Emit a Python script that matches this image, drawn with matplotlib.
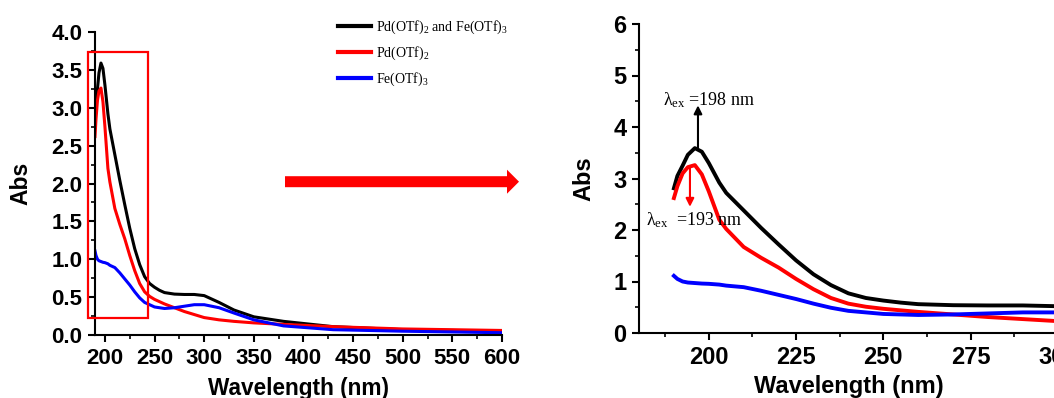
import matplotlib
matplotlib.use("Agg")
import matplotlib.pyplot as plt
from matplotlib.patches import Rectangle, FancyArrow
from matplotlib.ticker import MultipleLocator

# ---------------- data ----------------
wavelength = [190, 191, 192.5, 194, 196, 198, 200, 203, 205, 210, 215, 220, 225,
              230, 235, 240, 245, 250, 255, 260, 270, 280, 290, 300, 315, 330,
              350, 380, 430, 500, 600]
abs_pd_fe = [2.81, 3.05, 3.25, 3.46, 3.59, 3.52, 3.30, 2.92, 2.72, 2.38, 2.04, 1.72,
             1.41, 1.14, 0.93, 0.77, 0.68, 0.63, 0.59, 0.56, 0.54, 0.535, 0.535,
             0.52, 0.43, 0.33, 0.24, 0.18, 0.11, 0.07, 0.05]
abs_pd = [2.62, 2.85, 3.10, 3.22, 3.26, 3.08, 2.75, 2.20, 2.02, 1.67, 1.46, 1.27,
          1.05, 0.85, 0.68, 0.57, 0.51, 0.47, 0.44, 0.41, 0.36, 0.31, 0.27, 0.23,
          0.20, 0.18, 0.16, 0.14, 0.11, 0.08, 0.06]
abs_fe = [1.11, 1.05, 1.00, 0.98, 0.97, 0.96, 0.955, 0.94, 0.92, 0.89, 0.82, 0.74,
          0.66, 0.57, 0.49, 0.43, 0.40, 0.37, 0.36, 0.35, 0.36, 0.38, 0.40, 0.40,
          0.36, 0.29, 0.20, 0.12, 0.07, 0.05, 0.03]
labels = ['Pd(OTf)$_2$ and Fe(OTf)$_3$', 'Pd(OTf)$_2$', 'Fe(OTf)$_3$']
colors = ['black', '#ff0000', '#0000ff']
series = [abs_pd_fe, abs_pd, abs_fe]
left_xticks = [200, 250, 300, 350, 400, 450, 500, 550, 600]
left_yticks = [0.0, 0.5, 1.0, 1.5, 2.0, 2.5, 3.0, 3.5, 4.0]
right_xticks = [200, 225, 250, 275, 300]
right_yticks = [0, 1, 2, 3, 4, 5, 6]
peak_mix_nm = 198
peak_pd_nm = 193

plt.rcParams['mathtext.fontset'] = 'custom'
plt.rcParams['mathtext.rm'] = 'Liberation Serif'
plt.rcParams['mathtext.it'] = 'Liberation Serif:italic'

W, H = 1054, 398
fig = plt.figure(figsize=(W / 100, H / 100), dpi=100)


def style(ax, fs):
    for s in ['top', 'right']:
        ax.spines[s].set_visible(False)
    for s in ['left', 'bottom']:
        ax.spines[s].set_linewidth(1.5)
    ax.tick_params(which='major', direction='out', length=5, width=1.5, pad=4)
    ax.tick_params(which='minor', direction='out', length=3, width=1.2)
    for lab in ax.get_xticklabels() + ax.get_yticklabels():
        lab.set_fontfamily('Liberation Sans')
        lab.set_fontweight('bold')
        lab.set_fontsize(fs)


# ---------------- left panel ----------------
axL = fig.add_axes([95 / W, (H - 335) / H, (502 - 95) / W, 303 / H])
for y, c, l in zip(series, colors, labels):
    axL.plot(wavelength, y, color=c, lw=2.2, label=l)
axL.set_xlim(190, 600)
axL.set_ylim(0, 4.0)
axL.set_xticks(left_xticks)
axL.set_yticks(left_yticks)
axL.set_yticklabels([f'{v:.1f}' for v in left_yticks])
axL.xaxis.set_minor_locator(MultipleLocator(25))
axL.yaxis.set_minor_locator(MultipleLocator(0.25))
style(axL, 16)
axL.set_xlabel('Wavelength (nm)', family='Liberation Sans', weight='bold',
               size=16.3, labelpad=6)
axL.set_ylabel('Abs', family='Liberation Sans', weight='bold', size=16.5,
               labelpad=14)
axL.add_patch(Rectangle((183, 0.22), 60.5, 3.51, fill=False, edgecolor='#ff0000',
                        lw=1.6, clip_on=False, zorder=5))
leg = axL.legend(loc='upper left', bbox_to_anchor=(338 / W, (H - 19) / H),
                 bbox_transform=fig.transFigure, frameon=False,
                 prop=dict(family='Liberation Serif', size=10),
                 handlelength=2.4, handletextpad=0.35, labelspacing=0.6,
                 borderaxespad=0, borderpad=0)
for line in leg.get_lines():
    line.set_linewidth(3)

# ---------------- big arrow ----------------
fig.add_artist(FancyArrow(2.85, (H - 181.7) / 100, 5.19 - 2.85, 0, width=0.11,
                          head_width=0.24, head_length=0.12,
                          length_includes_head=True, color='#ff0000', lw=0,
                          transform=fig.dpi_scale_trans))

# ---------------- right panel ----------------
axR = fig.add_axes([639 / W, (H - 333) / H, 418.8 / W, 309 / H])
for y, c in zip(series, colors):
    axR.plot(wavelength, y, color=c, lw=2.8)
axR.set_xlim(180, 300)
axR.set_ylim(0, 6)
axR.set_xticks(right_xticks)
axR.set_yticks(right_yticks)
axR.xaxis.set_minor_locator(MultipleLocator(12.5))
axR.yaxis.set_minor_locator(MultipleLocator(0.5))
style(axR, 17)
axR.set_xlabel('Wavelength (nm)', family='Liberation Sans', weight='bold',
               size=17, labelpad=5)
axR.set_ylabel('Abs', family='Liberation Sans', weight='bold', size=17,
               labelpad=13)

axR.annotate('', xy=(196.9, 4.42), xytext=(196.9, 3.6),
             arrowprops=dict(arrowstyle='-|>', color='black', lw=1.5,
                             mutation_scale=12, shrinkA=0, shrinkB=0))
axR.annotate('', xy=(194.6, 2.45), xytext=(194.6, 3.2),
             arrowprops=dict(arrowstyle='-|>', color='#ff0000', lw=1.5,
                             mutation_scale=12, shrinkA=0, shrinkB=0))
axR.text(187.0, 4.52, f'λ$_{{\\mathrm{{ex}}}}$ ={peak_mix_nm} nm',
         family='Liberation Serif', size=13, va='center', ha='left')
axR.text(182.1, 2.19, f'λ$_{{\\mathrm{{ex}}}}$  ={peak_pd_nm} nm',
         family='Liberation Serif', size=13, va='center', ha='left')

fig.savefig('out.png', dpi=100)
